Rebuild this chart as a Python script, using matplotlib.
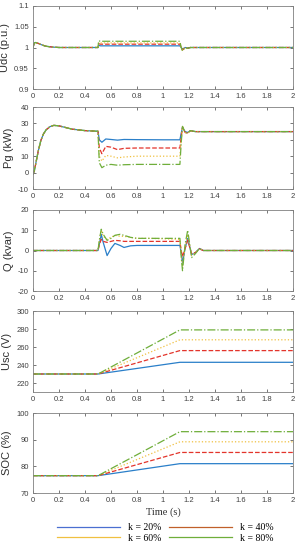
import matplotlib
matplotlib.use("Agg")
import matplotlib.pyplot as plt
from matplotlib.lines import Line2D

# values
labels = ["k = 20%", "k = 40%", "k = 60%", "k = 80%"]
colors = ["#2a7fc9", "#e3342b", "#f0c040", "#6fae3a"]
styles = ["-", "--", ":", "-."]
legend_colors = ["#4a6fd0", "#c0602a", "#f0c040", "#6fae3a"]

t_udc = [0, 0.01, 0.02, 0.04, 0.07, 0.1, 0.15, 0.2, 0.5, 0.505, 0.52, 1.13, 1.14,
         1.15, 1.17, 1.19, 1.21, 1.25, 2.0]
udc_20 = [1.0, 1.011, 1.012, 1.010, 1.006, 1.003, 1.001, 1.0, 1.0, 1.005, 1.004, 1.004,
          1.0, 0.996, 1.0, 0.999, 1.0, 1.0, 1.0]
udc_40 = [1.0, 1.011, 1.012, 1.010, 1.006, 1.003, 1.001, 1.0, 1.0, 1.009, 1.008, 1.008,
          1.0, 0.994, 1.0, 0.998, 1.0, 1.0, 1.0]
udc_60 = [1.0, 1.011, 1.012, 1.010, 1.006, 1.003, 1.001, 1.0, 1.0, 1.012, 1.011, 1.011,
          1.0, 0.993, 1.0, 0.998, 1.0, 1.0, 1.0]
udc_80 = [1.0, 1.011, 1.012, 1.010, 1.006, 1.003, 1.001, 1.0, 1.0, 1.016, 1.015, 1.015,
          1.0, 0.992, 1.0, 0.998, 1.0, 1.0, 1.0]

t_pg = [0, 0.01, 0.02, 0.04, 0.06, 0.08, 0.1, 0.13, 0.16, 0.2, 0.25, 0.3, 0.4, 0.5,
        0.51, 0.53, 0.56, 0.6, 0.65, 0.7, 0.8, 1.0, 1.13, 1.14, 1.15, 1.17, 1.19, 1.21, 1.25, 2.0]
pg_start = [-1, 1, 5, 13, 19.5, 23.5, 26, 28, 28.8, 28.5, 27.5, 26.5, 25.6, 25.2]
pg_20 = pg_start + [20, 18.5, 20.5, 20.2, 19.8, 20.2, 20.1, 20, 20, 24, 27.5, 25, 24.5, 25.5, 25, 25]
pg_40 = pg_start + [15, 11.5, 16, 15.5, 14, 14.8, 15, 15, 15, 22, 27.8, 24.5, 24.2, 25.5, 25, 25]
pg_60 = pg_start + [10, 7, 10.5, 10, 9, 9.5, 10, 10, 10, 20, 28, 24.5, 24, 25.5, 25, 25]
pg_80 = pg_start + [6, 3, 4.5, 5, 4.5, 4.8, 5, 5, 5, 18, 28.2, 24.5, 24, 25.6, 25, 25]

t_q = [0, 0.5, 0.51, 0.525, 0.54, 0.57, 0.6, 0.63, 0.67, 0.7, 0.75, 0.8, 0.9, 1.13,
       1.14, 1.15, 1.17, 1.19, 1.22, 1.25, 1.28, 1.31, 1.35, 2.0]
q_20 = [0, 0, 3, 8, 4, -2.5, 1, 3.5, 2.5, 1.5, 2.3, 2.5, 2.5, 2.5, -1, -6, 1, 6, -2, -1, 1, 0, 0, 0]
q_40 = [0, 0, 3, 5.5, 4.5, 4, 4.5, 5, 4.8, 4.5, 4.5, 4.5, 4.5, 4.5, 0, -3, 1, 5, -1.5, -1, 0.8, 0, 0, 0]
q_60 = [0, 0, 5, 10, 7, 5.5, 6.5, 7.5, 7, 7, 6.5, 6, 6, 5.5, -2, -8, 2, 8, -2.5, -1, 1, 0, 0, 0]
q_80 = [0, 0, 5, 10.5, 8, 5, 6, 7.5, 8, 7.5, 6.5, 6, 6, 6, -3, -10, 3, 10, -3.5, -1.5, 1, 0, 0, 0]

t_ramp = [0, 0.5, 1.13, 2.0]
usc_20 = [230, 230, 243, 243]
usc_40 = [230, 230, 256, 256]
usc_60 = [230, 230, 268, 268]
usc_80 = [230, 230, 279, 279]
soc_20 = [76.5, 76.5, 81, 81]
soc_40 = [76.5, 76.5, 85.2, 85.2]
soc_60 = [76.5, 76.5, 89.2, 89.2]
soc_80 = [76.5, 76.5, 93, 93]

panels = [
    ("Udc (p.u.)", t_udc, [udc_20, udc_40, udc_60, udc_80], (0.9, 1.1), [0.9, 0.95, 1, 1.05, 1.1]),
    ("Pg (kW)", t_pg, [pg_20, pg_40, pg_60, pg_80], (-10, 40), [-10, 0, 10, 20, 30, 40]),
    ("Q (kvar)", t_q, [q_20, q_40, q_60, q_80], (-20, 20), [-20, -10, 0, 10, 20]),
    ("Usc (V)", t_ramp, [usc_20, usc_40, usc_60, usc_80], (210, 300), [220, 240, 260, 280, 300]),
    ("SOC (%)", t_ramp, [soc_20, soc_40, soc_60, soc_80], (70, 100), [70, 80, 90, 100]),
]
# (top, bottom) of each axes in pixels
boxes = [(6, 89), (107, 189), (210, 291), (311, 392), (413, 493)]
xticks = [0, 0.2, 0.4, 0.6, 0.8, 1, 1.2, 1.4, 1.6, 1.8, 2]
xticklabels = ["0", "0.2", "0.4", "0.6", "0.8", "1", "1.2", "1.4", "1.6", "1.8", "2"]

W, H = 299, 550
fig = plt.figure(figsize=(W / 100, H / 100), dpi=100)
plt.rcParams['font.family'] = ['Liberation Sans', 'DejaVu Sans']

for (ylab, t, series, ylim, yticks), (top, bot) in zip(panels, boxes):
    ax = fig.add_axes([33 / W, 1 - bot / H, 260 / W, (bot - top) / H])
    for y, c, ls in zip(series, colors, styles):
        ax.plot(t, y, color=c, linestyle=ls, linewidth=0.9)
    ax.set_xlim(0, 2)
    ax.set_ylim(*ylim)
    ax.set_xticks(xticks)
    ax.set_xticklabels(xticklabels)
    ax.set_yticks(yticks)
    ax.set_yticklabels([f"{v:g}" for v in yticks])
    ax.tick_params(direction="in", top=True, right=True, length=2.5, width=0.5,
                   labelsize=5.5, colors="#404040", pad=3)
    for sp in ax.spines.values():
        sp.set_color("#808080")
        sp.set_linewidth(0.6)
    ax.set_ylabel(ylab, fontsize=8, color="#303030", labelpad=3)

ax.set_xlabel("Time (s)", fontsize=7.5, family=["Liberation Serif", "DejaVu Serif"],
              color="#303030", labelpad=2)

# legend fills row by row: 20%, 40% on top, 60%, 80% below
order = [0, 2, 1, 3]
handles = [Line2D([0], [0], color=legend_colors[i], linewidth=0.9) for i in order]
fig.legend(handles, [labels[i] for i in order], loc="center",
           bbox_to_anchor=(165 / W, 1 - 533 / H), ncol=2,
           frameon=False, handlelength=6.5, columnspacing=0.8, handletextpad=0.8,
           labelspacing=0.15, prop={"family": ["Liberation Serif", "DejaVu Serif"], "size": 7})

fig.savefig("out.png", dpi=100)
